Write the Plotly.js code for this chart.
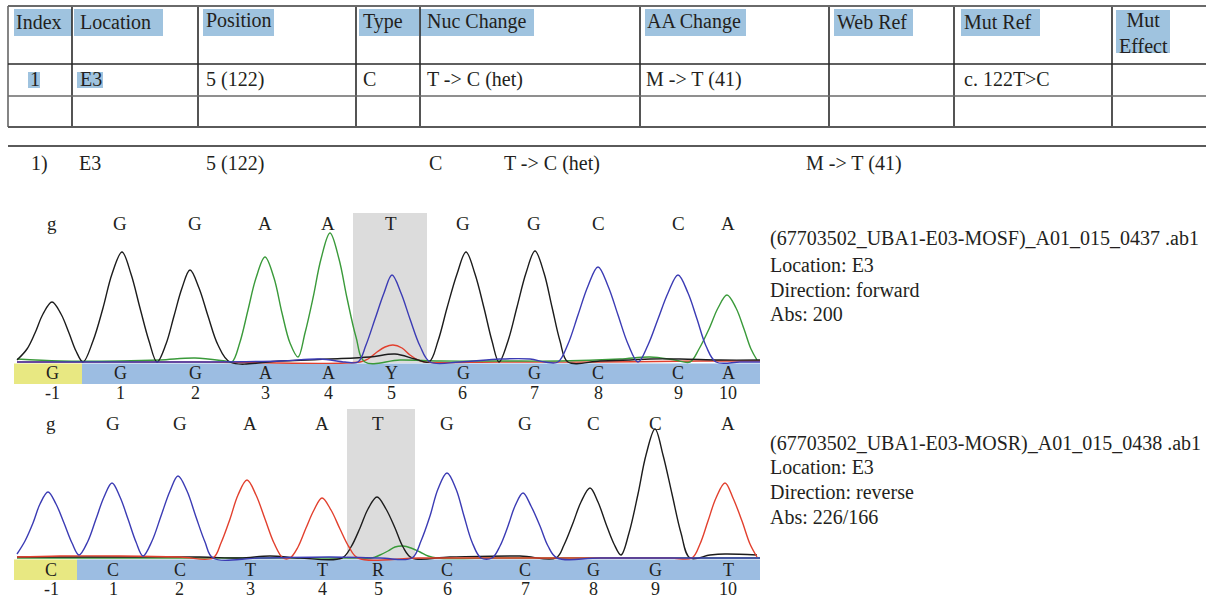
<!DOCTYPE html>
<html>
<head>
<meta charset="utf-8">
<script src="https://cdn.plot.ly/plotly-3.0.1.min.js"></script>
<style>html,body{margin:0;padding:0;background:#fff;}#chart{width:1206px;height:599px;}</style>
</head>
<body>
<div id="chart"></div>
<script>
// ---------------- DATA ----------------
const headerLabels = ['Index','Location','Position','Type','Nuc Change','AA Change','Web Ref','Mut Ref','Mut<br>Effect'];
const rowValues = ['1','E3','5 (122)','C','T -> C (het)','M -> T (41)','','c. 122T>C',''];
const summaryValues = ['1)','E3','5 (122)','C','T -> C (het)','M -> T (41)'];

const baseNumbers = ['-1','1','2','3','4','5','6','7','8','9','10'];
const fwdCalls = ['g','G','G','A','A','T','G','G','C','C','A'];
const fwdBar   = ['G','G','G','A','A','Y','G','G','C','C','A'];
const fwdBaseX = [52,120,195,265,328,391,463,534,598,678,728];
const revCalls = ['g','G','G','A','A','T','G','G','C','C','A'];
const revBar   = ['C','C','C','T','T','R','C','C','G','G','T'];
const revBaseX = [51,113,180,250,322,378,447,525,593,655,728];

const fwdInfo = ['(67703502_UBA1-E03-MOSF)_A01_015_0437 .ab1','Location: E3','Direction: forward','Abs: 200'];
const revInfo = ['(67703502_UBA1-E03-MOSR)_A01_015_0438 .ab1','Location: E3','Direction: reverse','Abs: 226/166'];

// forward trace (scan position, signal)
const fwdG_x = [17,27,35,43,52,61,69,76,83,93,103,112,122,131,140,149,157,166,174,182,190,199,208,218,230,280,330,370,395,415,429,438,447,457,466,475,484,492,499,508,517,526,535,544,552,560,568,600,630,650,680,720,760];
const fwdG_y = [3,14,30,49,61,49,30,12,1,22,55,89,111,89,55,22,1,19,47,75,93,75,47,18,1,2,4,6,9,4,1,22,55,89,111,89,55,22,1,22,56,90,112,90,56,22,1,2,3,4,4,3,3];
const fwdA_x = [17,60,120,160,195,225,232,240,248,256,265,274,282,290,298,305,313,321,330,339,347,356,365,400,440,500,560,620,650,675,690,699,709,718,727,736,744,751,757];
const fwdA_y = [4,2,2,3,5,2,1,21,53,85,106,85,50,20,6,30,65,104,130,104,65,26,1,3,2,2,2,4,6,3,1,14,34,55,68,55,34,14,3];
const fwdC_x = [17,100,200,280,320,345,358,366,375,384,392,401,410,420,430,460,500,530,545,558,568,578,588,598,608,618,628,638,648,658,668,678,688,697,706,716,740,760];
const fwdC_y = [1,1,1,2,4,1,1,18,44,70,88,70,44,17,1,1,4,4,1,1,19,48,77,96,77,48,19,1,18,44,70,88,70,44,17,1,1,1];
const fwdT_x = [17,200,360,368,377,385,393,402,410,418,425,500,600,700,760];
const fwdT_y = [1,1,1,4,11,16,18,15,8,3,1,1,1,2,2];

// reverse trace
const revC_x = [17,25,33,40,48,56,64,72,79,88,96,104,112,120,128,136,143,152,161,170,178,187,196,205,213,260,330,380,412,421,430,438,447,456,464,472,481,492,500,508,515,523,531,540,548,557,600,700,760];
const revC_y = [5,18,36,55,67,55,36,16,4,18,40,62,76,62,40,17,3,18,43,68,83,68,42,17,1,1,2,1,1,18,43,70,86,70,43,17,1,1,13,33,53,66,53,33,13,1,1,1,1];
const revT_x = [17,60,120,180,213,221,230,238,247,256,265,274,283,290,298,306,314,322,331,340,349,358,420,500,600,670,692,700,708,716,725,733,742,750,757];
const revT_y = [2,3,3,2,1,16,40,64,79,64,40,16,1,1,12,31,49,61,49,30,12,1,1,1,1,1,1,15,38,61,76,61,38,15,2];
const revG_x = [17,100,200,240,270,300,342,351,360,368,377,386,395,403,412,450,520,556,564,573,581,590,598,606,614,621,629,638,646,655,663,672,681,690,710,725,757];
const revG_y = [2,2,2,1,3,1,1,12,31,50,62,50,31,12,1,2,3,1,14,36,57,71,57,35,15,4,26,65,104,130,104,65,26,1,4,5,4];
const revA_x = [17,200,360,372,380,388,395,403,411,420,428,437,500,600,760];
const revA_y = [1,1,1,1,4,8,12,13,11,7,3,1,1,1,1];

// ---------------- LAYOUT HELPERS ----------------
const W = 1206, H = 599;
const px = x => x / W;
const py = y => 1 - y / H;
const FONT = '"Liberation Serif", "Times New Roman", serif';
const TXT = '#231f20';
const COL = {G:'#1c1c1c', A:'#3a9a3a', C:'#3b3bb4', T:'#e2402e'};

function tr(x, y, color, xa, ya) {
  return {x: x, y: y, type: 'scatter', mode: 'lines', xaxis: xa, yaxis: ya,
          line: {color: color, width: 1.4, shape: 'spline', smoothing: 1}, hoverinfo: 'skip'};
}
const traces = [
  tr(fwdT_x, fwdT_y, COL.T, 'x', 'y'),
  tr(fwdA_x, fwdA_y, COL.A, 'x', 'y'),
  tr(fwdG_x, fwdG_y, COL.G, 'x', 'y'),
  tr(fwdC_x, fwdC_y, COL.C, 'x', 'y'),
  tr(revA_x, revA_y, COL.A, 'x2', 'y2'),
  tr(revG_x, revG_y, COL.G, 'x2', 'y2'),
  tr(revT_x, revT_y, COL.T, 'x2', 'y2'),
  tr(revC_x, revC_y, COL.C, 'x2', 'y2')
];

const shapes = [];
const annotations = [];
function pline(x0, y0, x1, y1, color, w) {
  shapes.push({type:'line', xref:'paper', yref:'paper', x0:px(x0), y0:py(y0), x1:px(x1), y1:py(y1),
               line:{color:color, width:w}});
}
function prect(x0, y0, x1, y1, fill) {
  shapes.push({type:'rect', xref:'paper', yref:'paper', x0:px(x0), y0:py(y0), x1:px(x1), y1:py(y1),
               fillcolor:fill, line:{width:0}, layer:'below'});
}
function ptext(x, y, t, size, anchor, align) {
  annotations.push({xref:'paper', yref:'paper', x:px(x), y:py(y), text:t, showarrow:false,
    xanchor:anchor || 'left', yanchor:'middle', align: align || 'left',
    font:{family:FONT, size:size, color:TXT}, borderpad:0});
}

// ---- table ----
const HL = '#9fc3df';
const hlBoxes = [[14,9,72,36],[74,9,163,36],[203,9,274,36],[359,9,419,36],[420,9,534,36],
                 [645,9,746,36],[834,9,913,36],[961,9,1040,36],[1116,10,1170,53]];
hlBoxes.forEach(b => prect(b[0], b[1], b[2], b[3], HL));
prect(28,72,40,88,HL);
prect(77,72,103,88,HL);

const colX = [8,72,198,356,420,640,829,954,1112];
colX.forEach((x,i) => pline(x, 6, x, 127, i === 0 ? '#666' : '#2a2a2a', 1.6));
pline(8, 6, W, 6, '#6a6a6a', 2);
pline(8, 64, W, 64, '#2a2a2a', 1.6);
pline(8, 96, W, 96, '#6a6a6a', 1.6);
pline(8, 127, W, 127, '#5a5a5a', 2);
pline(8, 146, W, 146, '#5a5a5a', 2);

const headX = [15,79,205,362,426,646,836,963,1143];
headerLabels.forEach((t,i) => {
  if (i === 8) ptext(headX[i], 33, t, 20, 'center', 'center');
  else ptext(headX[i], i === 2 ? 20 : 22, t, 20);
});
const rowX = [29,79,205,362,426,645,836,963,1118];
rowValues.forEach((t,i) => { if (t) ptext(rowX[i], 79, t, 20); });
const sumX = [30,78,205,428,503,805];
summaryValues.forEach((t,i) => ptext(sumX[i], 163, t, 20));

// ---- info text ----
const infoY1 = [239,265,290,314];
const infoY2 = [443,467,492,517];
fwdInfo.forEach((t,i) => ptext(769, infoY1[i], t, 20));
revInfo.forEach((t,i) => ptext(769, infoY2[i], t, 20));

// ---- chromatogram decorations (data coords) ----
function drect(xa, ya, x0, x1, y0, y1, fill) {
  shapes.push({type:'rect', xref:xa, yref:ya, x0:x0, x1:x1, y0:y0, y1:y1,
               fillcolor:fill, line:{width:0}, layer:'below'});
}
const YEL = '#e8e882', BAR = '#9cbde2', SHADE = '#dcdcdc';
drect('x','y', 353, 427, 0, 150, SHADE);
drect('x','y', 14, 82, -21, -0.5, YEL);
drect('x','y', 82, 760, -21, -0.5, BAR);
drect('x2','y2', 347, 415, 0, 150, SHADE);
drect('x2','y2', 14, 77, -21, -0.5, YEL);
drect('x2','y2', 77, 760, -21, -0.5, BAR);

function dtext(xa, ya, x, y, t, size) {
  annotations.push({xref:xa, yref:ya, x:x, y:y, text:t, showarrow:false, xanchor:'center', yanchor:'middle',
    font:{family:FONT, size:size, color:TXT}});
}
// position numbers sit below the plot area (x axis: 1 unit = 1 px from left edge)
function ntext(x, ypx, t) {
  annotations.push({xref:'paper', yref:'paper', x:px(x), y:py(ypx), text:t, showarrow:false,
    xanchor:'center', yanchor:'middle', font:{family:FONT, size:18, color:TXT}});
}
fwdBaseX.forEach((x,i) => {
  dtext('x','y', x, 139, fwdCalls[i], 19);
  dtext('x','y', x, -10, fwdBar[i], 18);
  ntext(x, 393, baseNumbers[i]);
});
revBaseX.forEach((x,i) => {
  dtext('x2','y2', x, 136, revCalls[i], 19);
  dtext('x2','y2', x, -11, revBar[i], 18);
  ntext(x, 589, baseNumbers[i]);
});

const ax = (dom) => ({domain: dom, range: [14, 760], visible: false, fixedrange: true});
const ay = (dom) => ({domain: dom, range: [-21, 158], visible: false, fixedrange: true});

const layout = {
  width: W, height: H,
  margin: {l:0, r:0, t:0, b:0, pad:0},
  paper_bgcolor: '#ffffff', plot_bgcolor: 'rgba(0,0,0,0)',
  showlegend: false,
  xaxis: Object.assign(ax([px(14), px(760)]), {anchor: 'y'}),
  yaxis: Object.assign(ay([py(384), py(205)]), {anchor: 'x'}),
  xaxis2: Object.assign(ax([px(14), px(760)]), {anchor: 'y2'}),
  yaxis2: Object.assign(ay([py(580), py(401)]), {anchor: 'x2'}),
  shapes: shapes,
  annotations: annotations,
  font: {family: FONT, color: TXT}
};

Plotly.newPlot('chart', traces, layout, {staticPlot: true, displayModeBar: false});
</script>
</body>
</html>
